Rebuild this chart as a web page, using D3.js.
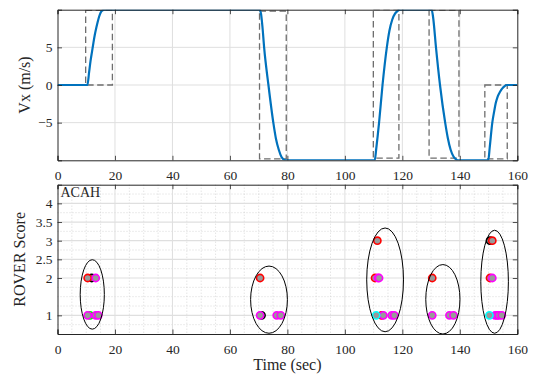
<!DOCTYPE html>
<html>
<head>
<meta charset="utf-8">
<script src="https://cdn.jsdelivr.net/npm/d3@7"></script>
<style>
  html, body { margin: 0; padding: 0; background: #fff; }
  svg { display: block; }
  text { font-family: "Liberation Serif", "DejaVu Serif", serif; fill: #262626; }
</style>
</head>
<body>
<svg id="chart" width="533" height="376"></svg>
<script>
// Longitudinal velocity response (m/s) over time (s)
const vxTime = [0, 10.4, 11, 11.5, 12, 12.5, 13, 13.5, 14, 14.5, 15, 15.5, 16, 16.5,
  70.3, 70.8, 71.3, 71.9, 73.4, 75.1, 76, 77, 78, 79, 79.7,
  110.4, 110.9, 111.9, 113.1, 114.6, 115.5, 116.5, 117.5, 118.5, 119.3,
  130.2, 130.7, 131.7, 133.1, 134.9, 135.8, 136.8, 137.8, 138.8, 139.5,
  149.9, 150.4, 151.3, 152, 152.5, 153.2, 154, 154.8, 155.6, 156.4, 160];
const vxValue = [0, 0, 1.7, 3.2, 4.4, 5.6, 6.7, 7.6, 8.4, 9.1, 9.6, 9.85, 9.97, 10,
  10, 9.5, 7.8, 5, 0, -5, -7.1, -8.6, -9.6, -9.95, -10,
  -10, -8.5, -5, 0, 5, 7.2, 8.7, 9.5, 9.9, 10,
  10, 9, 5, 0, -5, -7, -8.6, -9.5, -9.9, -10,
  -10, -8.3, -5, -3.4, -2.4, -1.5, -0.9, -0.45, -0.15, 0, 0];

// Manoeuvre windows: start/end time and velocity band
const winStart = [9.8, 70.3, 109.9, 129.3, 148.7];
const winEnd   = [19.1, 79.6, 118.8, 139.7, 156.5];
const winLow   = [0, -9.8, -9.7, -9.7, -9.8];
const winHigh  = [9.9, 9.8, 10, 9.95, 0];

// ROVER scores: time, score, pilot (listed in drawing order)
const scoreTime  = [11.9, 10.5, 13.3, 11.3, 10.5, 13.3, 14.2,
  70.5, 71.0, 70.5, 76.3, 77.7,
  111.3, 110.5, 111.5, 111.9, 112.8, 113.4, 116.3, 117.2, 110.9,
  130.4, 130.4, 136.4, 137.8,
  150.5, 151.3, 150.5, 151.3, 152.3, 153.0, 153.6, 154.6, 150.3];
const scoreValue = [2, 2, 2, 1, 1, 1, 1,
  2, 1, 1, 1, 1,
  3, 2, 2, 2, 1, 1, 1, 1, 1,
  2, 1, 1, 1,
  3, 3, 2, 2, 1, 1, 1, 1, 1];
const scorePilot = ["D", "A", "B", "E", "B", "B", "B",
  "A", "D", "B", "B", "B",
  "A", "A", "B", "B", "A", "B", "B", "B", "C",
  "A", "B", "B", "B",
  "D", "A", "A", "B", "B", "B", "B", "B", "C"];
const pilots = ["A", "B", "C", "D", "E"];

// Cluster ellipses: centre (time, score) and radii
const ellTime  = [12.1, 73.6, 114, 134.1, 152.1];
const ellScore = [1.56, 1.42, 1.95, 1.43, 1.9];
const ellRadT  = [4.2, 6.4, 6.4, 5.95, 4.8];
const ellRadS  = [0.93, 0.9, 1.39, 0.93, 1.38];

// Axis ticks
const xTicks = [0, 20, 40, 60, 80, 100, 120, 140, 160];
const vxTicks = [-5, 0, 5];
const scoreTicks = [1, 2, 2.5, 3, 3.5, 4];
const scoreMinor = [0.75, 1.25, 1.5, 1.75, 2.25, 2.75, 3.25, 3.75, 4.25];
const xMinor = d3.range(5, 160, 5).filter(v => v % 20 !== 0);

const svg = d3.select("#chart");
const left = 57.5, right = 517.3;
const top1 = 9.7, bot1 = 160.3;
const top2 = 184.7, bot2 = 334;

const x = d3.scaleLinear().domain([0, 160]).range([left, right]);
const yV = d3.scaleLinear().domain([-10, 10]).range([bot1, top1]);
const yS = d3.scaleLinear().domain([0.5, 4.5]).range([bot2, top2]);

const pilotColor = d3.scaleOrdinal().domain(pilots)
  .range(["#ff0000", "#ff00ff", "#00ffff", "#000000", "#00ff00"]);

const gridColor = "#dfdfdf";
const axisColor = "#262626";

function clip(id, y0, y1) {
  svg.append("clipPath").attr("id", id).append("rect")
    .attr("x", left).attr("y", y0).attr("width", right - left).attr("height", y1 - y0);
}
clip("clipTop", top1, bot1);
clip("clipBot", top2, bot2);

function frame(yScale, yTickVals, y0, y1, yFmt) {
  const g = svg.append("g");
  // top / right mirror axes without labels
  g.append("g").attr("transform", `translate(0,${y0})`)
    .call(d3.axisTop(x).tickValues(xTicks).tickSize(-4.5).tickFormat(""));
  g.append("g").attr("transform", `translate(${right},0)`)
    .call(d3.axisRight(yScale).tickValues(yTickVals).tickSize(-4.5).tickFormat(""));
  g.append("g").attr("transform", `translate(0,${y1})`)
    .call(d3.axisBottom(x).tickValues(xTicks).tickSize(-4.5).tickPadding(10).tickFormat(d3.format("d")));
  g.append("g").attr("transform", `translate(${left},0)`)
    .call(d3.axisLeft(yScale).tickValues(yTickVals).tickSize(-4.5).tickPadding(5).tickFormat(yFmt));
  g.selectAll(".domain").attr("stroke", axisColor).attr("stroke-width", 1);
  g.selectAll(".tick line").attr("stroke", axisColor).attr("stroke-width", 0.8);
  g.selectAll(".tick text").style("font-size", "13.5px")
    .style("font-family", "'Liberation Serif', serif").attr("fill", axisColor);
  return g;
}

// ---------- Top panel: velocity ----------
const gTop = svg.append("g");
gTop.selectAll("line.gx").data(xTicks.slice(1, -1)).join("line")
  .attr("x1", d => x(d)).attr("x2", d => x(d)).attr("y1", top1).attr("y2", bot1)
  .attr("stroke", gridColor).attr("stroke-width", 1);
gTop.selectAll("line.gy").data(vxTicks).join("line")
  .attr("x1", left).attr("x2", right).attr("y1", d => yV(d)).attr("y2", d => yV(d))
  .attr("stroke", gridColor).attr("stroke-width", 1);

const plotTop = svg.append("g").attr("clip-path", "url(#clipTop)");
plotTop.selectAll("rect.win").data(winStart).join("rect")
  .attr("x", (d, i) => x(d)).attr("width", (d, i) => x(winEnd[i]) - x(d))
  .attr("y", (d, i) => yV(winHigh[i])).attr("height", (d, i) => yV(winLow[i]) - yV(winHigh[i]))
  .attr("fill", "none").attr("stroke", "#6e6e6e").attr("stroke-width", 1.3)
  .attr("stroke-dasharray", "6.5,3.5");

const vxLine = d3.line().x(d => x(d[0])).y(d => yV(d[1])).curve(d3.curveMonotoneX);
plotTop.append("path").datum(vxTime.map((t, i) => [t, vxValue[i]]))
  .attr("d", vxLine).attr("fill", "none").attr("stroke", "#0072BD").attr("stroke-width", 2.2);

frame(yV, vxTicks, top1, bot1, d3.format("d"));

svg.append("text").attr("transform", `translate(30,${(top1 + bot1) / 2}) rotate(-90)`)
  .attr("text-anchor", "middle").style("font-size", "16px").text("Vx (m/s)");

// ---------- Bottom panel: ROVER scores ----------
const gBot = svg.append("g");
gBot.selectAll("line.mx").data(xMinor).join("line")
  .attr("x1", d => x(d)).attr("x2", d => x(d)).attr("y1", top2).attr("y2", bot2)
  .attr("stroke", "#c8c8c8").attr("stroke-width", 0.7).attr("stroke-dasharray", "1,2");
gBot.selectAll("line.my").data(scoreMinor).join("line")
  .attr("x1", left).attr("x2", right).attr("y1", d => yS(d)).attr("y2", d => yS(d))
  .attr("stroke", "#c8c8c8").attr("stroke-width", 0.7).attr("stroke-dasharray", "1,2");
gBot.selectAll("line.gx").data(xTicks.slice(1, -1)).join("line")
  .attr("x1", d => x(d)).attr("x2", d => x(d)).attr("y1", top2).attr("y2", bot2)
  .attr("stroke", gridColor).attr("stroke-width", 1);
gBot.selectAll("line.gy").data(scoreTicks).join("line")
  .attr("x1", left).attr("x2", right).attr("y1", d => yS(d)).attr("y2", d => yS(d))
  .attr("stroke", gridColor).attr("stroke-width", 1.2);

const plotBot = svg.append("g").attr("clip-path", "url(#clipBot)");
plotBot.selectAll("circle.pt").data(scoreTime).join("circle")
  .attr("cx", d => x(d)).attr("cy", (d, i) => yS(scoreValue[i])).attr("r", 3.6)
  .attr("fill", "#999999").attr("stroke", (d, i) => pilotColor(scorePilot[i]))
  .attr("stroke-width", 1.6);

plotBot.selectAll("ellipse.cl").data(ellTime).join("ellipse")
  .attr("cx", d => x(d)).attr("cy", (d, i) => yS(ellScore[i]))
  .attr("rx", (d, i) => x(d + ellRadT[i]) - x(d))
  .attr("ry", (d, i) => yS(ellScore[i] - ellRadS[i]) - yS(ellScore[i]))
  .attr("fill", "none").attr("stroke", "#000").attr("stroke-width", 1);

frame(yS, scoreTicks, top2, bot2, d => String(d));

svg.append("text").attr("x", left + 3).attr("y", top2 + 12)
  .style("font-size", "14px").text("ACAH");

svg.append("text").attr("transform", `translate(25,${(top2 + bot2) / 2}) rotate(-90)`)
  .attr("text-anchor", "middle").style("font-size", "16px").text("ROVER Score");

svg.append("text").attr("x", (left + right) / 2).attr("y", 370)
  .attr("text-anchor", "middle").style("font-size", "16px").text("Time (sec)");
</script>
</body>
</html>
